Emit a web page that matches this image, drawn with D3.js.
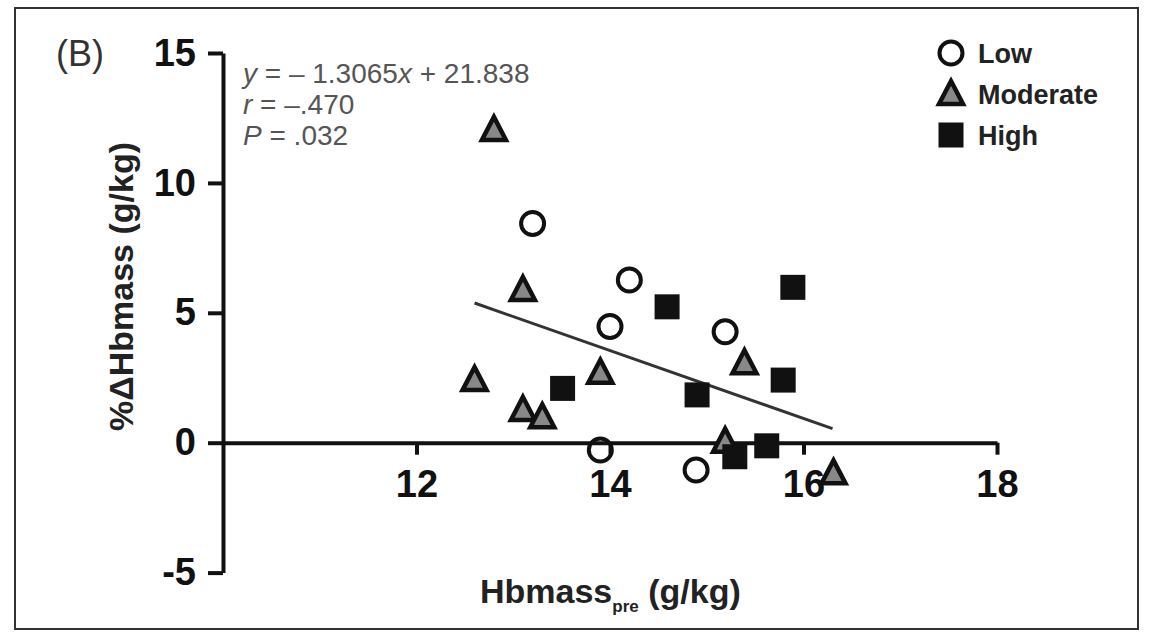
<!DOCTYPE html>
<html>
<head>
<meta charset="utf-8">
<title>Hbmass scatter</title>
<style>
  body { margin: 0; background: #fff; }
  svg text { font-family: "Liberation Sans", Arial, sans-serif; }
</style>
<script src="https://d3js.org/d3.v7.min.js"></script>
</head>
<body>
<svg id="chart" width="1150" height="640"></svg>
<script>
// Hbmass_pre (g/kg) vs %ΔHbmass (g/kg)
var lowX = [13.20, 14.20, 14.00, 15.19, 13.90, 14.89];
var lowY = [8.44, 6.26, 4.47, 4.27, -0.28, -1.05];

var modX = [12.80, 13.10, 12.60, 13.90, 13.10, 13.30, 15.39, 15.19, 16.31];
var modY = [12.04, 5.88, 2.41, 2.69, 1.26, 0.98, 3.06, 0.04, -1.18];

var highX = [14.59, 15.89, 13.51, 15.79, 14.90, 15.29, 15.62];
var highY = [5.23, 5.98, 2.09, 2.41, 1.84, -0.54, -0.12];

var xTicks = [12, 14, 16, 18];
var yTicks = [-5, 0, 5, 10, 15];
var fitSlope = -1.3065, fitIntercept = 21.838;
var fitRange = [12.6, 16.3];
var legendNames = ["Low", "Moderate", "High"];

var svg = d3.select("#chart");

// outer frame
svg.append("rect")
  .attr("x", 15).attr("y", 8)
  .attr("width", 1123).attr("height", 621)
  .attr("fill", "none")
  .attr("stroke", "#333")
  .attr("stroke-width", 2);

var x = d3.scaleLinear().domain([10, 18]).range([223, 997]);
var y = d3.scaleLinear().domain([-5, 15]).range([572.6, 53]);

// y axis
var gy = svg.append("g")
  .attr("transform", "translate(" + x(10) + ",0)")
  .call(d3.axisLeft(y).tickValues(yTicks).tickSize(15).tickSizeOuter(0).tickPadding(12)
    .tickFormat(function(d) { return d < 0 ? "-" + Math.abs(d) : d; }));

// x axis sits on y = 0
var gx = svg.append("g")
  .attr("transform", "translate(0," + y(0) + ")")
  .call(d3.axisBottom(x).tickValues(xTicks).tickSize(12).tickSizeOuter(0).tickPadding(15));

[gx, gy].forEach(function(g) {
  g.select(".domain").attr("stroke", "#111").attr("stroke-width", 4);
  g.selectAll(".tick line").attr("stroke", "#111").attr("stroke-width", 4);
  g.selectAll(".tick text")
    .attr("fill", "#111")
    .style("font-size", "38px")
    .style("font-weight", "bold")
    .style("font-family", "'Liberation Sans', Arial, sans-serif");
});

// regression line
svg.append("line")
  .attr("x1", x(fitRange[0])).attr("y1", y(fitSlope * fitRange[0] + fitIntercept))
  .attr("x2", x(fitRange[1])).attr("y2", y(fitSlope * fitRange[1] + fitIntercept))
  .attr("stroke", "#333")
  .attr("stroke-width", 3);

var triPath = "M0,-13 L12,10 L-12,10 Z";

function drawMarker(g, kind, cx, cy) {
  if (kind == 0) {
    g.append("circle").attr("cx", cx).attr("cy", cy).attr("r", 11.5)
      .attr("fill", "none").attr("stroke", "#111").attr("stroke-width", 4);
  } else if (kind == 1) {
    g.append("path").attr("d", triPath)
      .attr("transform", "translate(" + cx + "," + cy + ")")
      .attr("fill", "#888").attr("stroke", "#111").attr("stroke-width", 4.5)
      .attr("stroke-linejoin", "miter");
  } else {
    g.append("rect").attr("x", cx - 12.5).attr("y", cy - 12.5)
      .attr("width", 25).attr("height", 25).attr("fill", "#111");
  }
}

var pts = svg.append("g");
lowX.forEach(function(v, i) { drawMarker(pts, 0, x(v), y(lowY[i])); });
modX.forEach(function(v, i) { drawMarker(pts, 1, x(v), y(modY[i])); });
highX.forEach(function(v, i) { drawMarker(pts, 2, x(v), y(highY[i])); });

// panel letter
svg.append("text")
  .attr("x", 56).attr("y", 66)
  .attr("fill", "#333")
  .style("font-size", "36px")
  .text("(B)");

// fit statistics
var stats = svg.append("text")
  .attr("fill", "#555")
  .style("font-size", "28px");
var l1 = stats.append("tspan").attr("x", 243).attr("y", 83);
l1.append("tspan").style("font-style", "italic").text("y");
l1.append("tspan").text(" = \u2013 1.3065");
l1.append("tspan").style("font-style", "italic").text("x");
l1.append("tspan").text(" + 21.838");
var l2 = stats.append("tspan").attr("x", 243).attr("y", 114);
l2.append("tspan").style("font-style", "italic").text("r");
l2.append("tspan").text(" = \u2013.470");
var l3 = stats.append("tspan").attr("x", 243).attr("y", 145);
l3.append("tspan").style("font-style", "italic").text("P");
l3.append("tspan").text(" = .032");

// legend
var legend = svg.append("g");
legendNames.forEach(function(name, i) {
  var ly = 53 + i * 41;
  drawMarker(legend, i, 951, ly);
  legend.append("text")
    .attr("x", 978).attr("y", ly).attr("dy", "0.36em")
    .attr("fill", "#222")
    .style("font-size", "27px")
    .style("font-weight", "bold")
    .text(name);
});

// axis titles
var xt = svg.append("text")
  .attr("x", 480).attr("y", 603)
  .attr("fill", "#222")
  .style("font-size", "34px")
  .style("font-weight", "bold");
xt.append("tspan").text("Hbmass");
xt.append("tspan").attr("dy", 9).style("font-size", "17px").text("pre");
xt.append("tspan").attr("dy", -9).text(" (g/kg)");

svg.append("text")
  .attr("transform", "translate(133,142) rotate(-90)")
  .attr("text-anchor", "end")
  .attr("fill", "#222")
  .style("font-size", "34px")
  .style("font-weight", "bold")
  .text("%\u0394Hbmass (g/kg)");
</script>
</body>
</html>
